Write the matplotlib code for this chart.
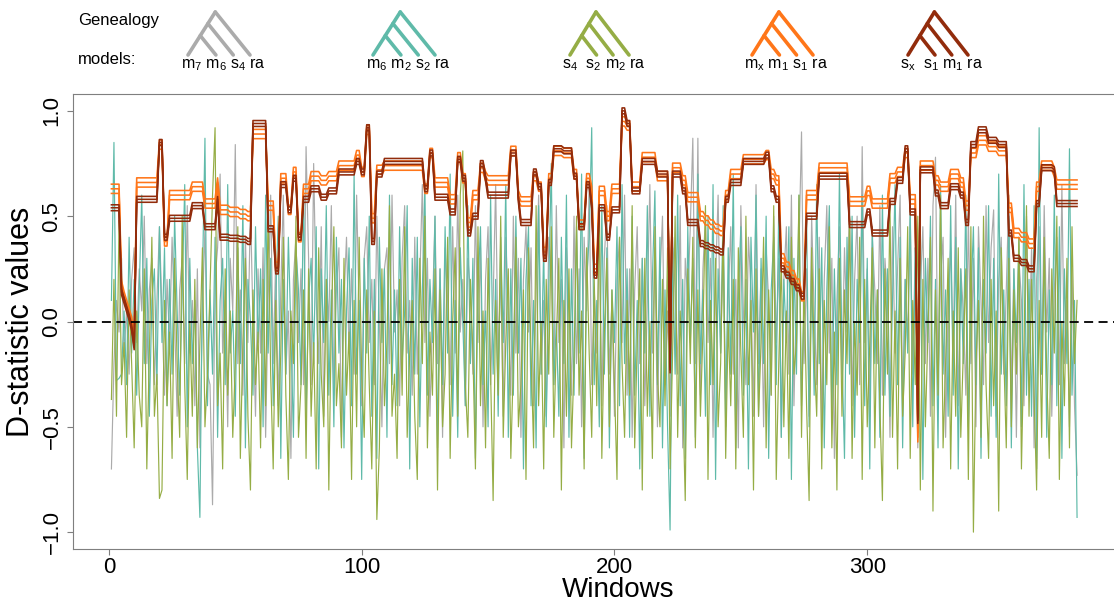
import numpy as np
import matplotlib.pyplot as plt

plt.rcParams['font.family'] = ['Liberation Sans', 'DejaVu Sans']
plt.rcParams['mathtext.fontset'] = 'custom'
plt.rcParams['mathtext.rm'] = 'Liberation Sans'
plt.rcParams['mathtext.it'] = 'Liberation Sans'

# D-statistics per window, in hundredths (noisy genealogy models)
grey_d = [
    -70, -20, 10, -5, 30, -15, 5, -25, 20, 35, -10, 25, 5, 50, -20, 15, 30, -30, 10, 45,
    5, -35, 20, -10, 40, 0, -45, 15, 30, -20, 55, -15, 10, -40, 25, -60, 5, 45, -25, -30,
    -87, 20, 35, 70, -15, 10, -50, 30, 5, 84, -20, 15, -35, 40, -10, 55, 0, -45, 25, -15,
    35, -55, 10, 60, -20, 30, -40, 15, 60, -25, 5, -65, 20, 40, -10, 25, -30, 83, 30, -30,
    75, 10, -20, 45, -45, 20, 0, 55, -35, 15, 35, -55, 10, 40, -15, 25, -25, 60, 5, -40,
    30, 45, -10, 20, -30, 50, 0, -50, 25, 35, -20, 60, -5, 15, -40, 30, 55, -15, 10, -35,
    40, -25, 20, 65, -10, 30, -45, 5, 50, -20, 25, -55, 35, 10, -30, 45, -15, 60, -5, 20,
    -40, 30, 15, -25, 55, -10, 35, -50, 20, 45, -30, 10, 65, -20, 25, -45, 40, 5, -35, 50,
    -15, 30, -55, 20, 45, -5, 35, -40, 15, 60, -25, 10, -45, 40, 25, -30, 55, -10, 20, -60,
    35, 10, -35, 50, -20, 25, -50, 40, 5, 65, -30, 15, -15, 45, -40, 30, 55, -25, 10, -45,
    20, 40, -10, 60, -35, 25, -55, 15, 45, -20, 30, -40, 10, 65, -15, 35, -50, 20, 50, -30,
    5, -45, 40, 15, -25, 55, -60, 30, 10, 45, 87, -20, 87, -35, 25, 50, -10, 30, -55, 20,
    60, -15, 35, -40, 10, 45, -25, 20, -60, 55, 5, -30, 40, 15, -45, 65, -20, 25, -50, 35,
    10, -35, 50, -10, 30, -55, 20, 45, -25, 60, -40, 15, 35, 90, -20, 25, -45, 50, 5, -30,
    40, -50, 20, 55, -15, 30, -65, 10, 45, -25, 35, -5, 60, -40, 20, 50, -30, 83, -10, 25,
    -45, 40, 15, -20, 55, -35, 30, 10, -55, 45, -15, 25, 60, -40, 20, -10, 50, -25, 35, -60,
    15, 45, -20, 30, -45, 55, 78, -30, 20, 40, -55, 10, 35, -15, 60, -40, 25, 5, -35, 50,
    -20, 30, -50, 45, 10, -30, 55, -10, 35, 53, -45, 20, 40, -25, 15, 60, -35, 25, -55, 30,
    10, -40, 50, -15, 35, -60, 20, 45, -25, 55, -5, 30, -45, 15, 40, -30, 65, -20, 10, -50,
    25, -40, -73,
]

teal_d = [
    10, 85, -28, -27, -25, 5, -30, 40, -15, 20, -35, 15, 60, -20, 30, -45, 10, 25, -30, 45,
    -10, 35, -40, 20, -25, 50, 5, -35, 15, 65, -50, 30, -20, 10, -60, -93, 20, 87, -40, 15,
    -25, 40, -55, 10, 30, -30, 65, -15, 5, -45, 35, -20, 55, -60, 20, 0, -35, 45, -10, 25,
    -50, 60, -15, 30, -40, 10, 50, -65, 20, -25, 40, -5, -55, 35, 15, -30, 65, -45, 10, 30,
    -20, 45, -70, 25, -10, 55, -35, 15, -50, 40, -15, 20, -60, 5, 35, -40, 70, -25, 10, -75,
    30, -15, 50, -45, 20, -65, 40, -10, 25, -55, 60, -30, 15, -40, 45, -20, 5, 55, -70, 30,
    -25, 40, -50, 15, 65, -35, 20, -10, 50, -60, 25, -30, 45, -15, 70, -45, 10, -55, 35, 0,
    -40, 55, -20, 30, -65, 15, 45, -30, 5, -50, 60, -25, 20, -45, 40, -10, 65, -55, 25, -35,
    50, -15, 30, -70, 20, 45, -40, 10, -60, 55, -25, 35, -50, 15, 75, -30, 0, -45, 40, -20,
    60, -55, 25, -35, 45, -15, 70, -65, 20, 40, 92, -30, 10, -50, 55, -25, 35, -60, 15, -10,
    45, -40, 65, -20, 25, -55, 50, -35, 10, -70, 30, -15, 55, -45, 20, 62, -30, 40, -60, 15,
    -50, -99, 35, -25, 60, -40, 20, -65, 45, -10, 30, -55, 70, -20, 15, -45, 50, -30, 65, -75,
    25, -15, 55, -50, 35, -25, 70, -60, 10, 45, -35, 20, -70, 40, -5, 60, -45, 30, -20, 50,
    -65, 15, 40, -30, 55, -55, 20, -10, 45, -75, 30, -25, 60, -40, 10, 50, -50, 25, -35, 65,
    -20, 35, -60, 15, 55, -45, 25, -30, 70, -15, -65, 40, -25, 50, -55, 20, -10, 60, -40, 30,
    -70, 45, -20, 15, -55, 60, -35, 25, -45, 10, 65, -30, 40, -60, 20, -15, 55, -50, 35, -25,
    45, -75, 30, -10, 50, -40, 20, -60, 65, -25, 15, -45, 55, -35, 40, -70, 25, -20, 60, -50,
    10, 45, -30, 35, -65, 20, -15, 55, -45, 30, -55, 70, -25, 15, -40, 50, -60, 25, -10, 40,
    -50, 65, -35, 20, -45, 55, -70, 92, -25, 35, -55, 15, -30, 60, -40, 45, -65, 25, -20, 82,
    -35, 10, -93,
]

green_d = [
    -37, 20, -45, 48, -30, -10, -55, 15, -20, -60, 5, -35, -50, 25, -70, -15, 40, -45, -25, -84,
    -80, 10, -40, -5, -65, 30, -20, -55, 50, -30, -75, 0, -45, 20, -60, -10, 35, -50, -25, 15,
    60, 92, -40, -15, -70, 25, -35, 5, -55, -20, 45, -65, -10, 30, -45, -80, 15, -30, -5, -60,
    20, -40, 55, -25, -70, 10, -50, -15, 40, -35, -75, 5, -20, 50, -55, -30, 15, -65, 25, -45,
    -10, -70, 35, -25, -50, 20, -80, 0, 45, -40, -20, -60, 30, -35, -5, -75, 10, -50, 40, -25,
    -55, 15, -30, -70, 5, -94, -60, 25, -40, -10, 55, -45, -25, -65, 20, -35, 45, -55, -15, 10,
    -45, -75, 30, -20, 50, -60, -5, -35, 25, -80, 15, -50, -25, 40, -65, 0, 35, -45, 60, 81,
    -30, -55, 20, -15, -70, 45, -40, 5, -60, 30, -25, -85, 10, -35, 50, -55, -10, 25, -65, -20,
    40, -50, -30, 15, -75, 35, -15, -60, 55, -40, 0, -70, 20, -25, 45, -55, -10, 30, -80, 10,
    -45, 25, -60, -20, 50, -35, 5, -70, 35, -15, -55, 20, -40, 60, -65, -5, 30, -50, 15, -30,
    -75, 40, -20, -55, 10, -35, 55, -60, -10, 25, -80, 30, -45, 0, -65, 45, -25, -50, 20, -40,
    35, -70, -15, 50, -55, 5, -35, -85, 25, -20, 40, -60, 15, -45, -5, 55, -75, 10, -30, 30,
    -50, -20, 45, -65, 0, -40, 20, -70, 35, -15, -55, 50, -30, 10, -80, 25, -45, -10, 40, -60,
    15, -35, 55, -75, -20, 30, -50, 5, -65, 40, -25, -10, 60, -55, 20, -40, -85, 35, -15, -45,
    25, -70, 10, -30, 45, -60, -5, -80, 30, -45, 15, -20, 50, -65, 0, -35, 40, -75, 20, -50,
    -10, 35, -60, 15, -40, -85, 25, -25, 55, -55, 5, -70, 30, -45, -15, 45, -65, 10, -30, 50,
    -80, 20, -50, -5, 40, -90, 15, -35, 60, -60, -20, 30, -70, 5, -45, 35, -55, -15, 25, -75,
    45, -100, -20, 10, -55, 50, -30, -65, 20, -40, 5, -90, 35, -15, -60, 30, -50, 15, -25, 40,
    -70, -10, 55, -45, 20, -35, -80, 10, -55, 40, -25, -65, 25, -15, 50, -75, 0, -40, 30, -60,
    45, -20, 10,
]

# step-like models: first window of each block, level for the orange and dark red models
step_start = [1, 5, 6, 7, 8, 9, 10, 11, 20, 22, 24, 33, 38, 43, 44, 48, 52, 55, 57, 63,
              66, 68, 71, 73, 75, 77, 80, 84, 87, 91, 98, 100, 102, 104, 106, 109, 125, 127, 129, 135,
              138, 140, 142, 144, 147, 149, 150, 159, 162, 163, 168, 170, 172, 174, 176, 180, 184, 186, 189, 191,
              192, 194, 197, 199, 203, 205, 207, 211, 217, 222, 223, 227, 229, 234, 236, 238, 240, 242, 244, 246,
              251, 260, 262, 264, 266, 268, 270, 272, 274, 276, 281, 293, 300, 302, 309, 312, 315, 317, 320, 321,
              327, 329, 333, 337, 339, 341, 344, 348, 352, 356, 358, 361, 364, 367, 369, 374, 375]
orange_level = [.63, .17, .12, .08, .04, .00, -.10, .66, .84, .38, .60, .64, .56, .66, .53, .52, .51, .50, .89, .55,
                .26, .68, .53, .71, .40, .63, .69, .67, .69, .74, .79, .71, .91, .49, .72, .74, .63, .80, .66, .58,
                .78, .68, .47, .60, .73, .69, .67, .81, .60, .57, .69, .64, .33, .68, .81, .80, .70, .46, .68, .62,
                .25, .62, .50, .63, .95, .93, .64, .78, .69, -.18, .73, .67, .59, .50, .48, .46, .44, .43, .60, .70,
                .77, .79, .70, .67, .30, .26, .22, .18, .12, .60, .73, .57, .62, .56, .68, .71, .80, .58, -.55, .74,
                .67, .64, .70, .66, .55, .80, .86, .83, .81, .54, .42, .40, .37, .64, .74, .71, .65]
red_level = [.54, .14, .10, .06, .02, -.03, -.12, .58, .85, .40, .49, .55, .45, .58, .40, .395, .39, .38, .94, .44,
             .24, .65, .53, .68, .40, .58, .63, .59, .62, .71, .76, .71, .92, .38, .70, .76, .63, .80, .59, .52,
             .77, .68, .42, .50, .75, .68, .60, .80, .58, .47, .71, .64, .30, .66, .82, .81, .69, .45, .65, .55,
             .22, .54, .40, .53, 1.0, .94, .62, .76, .70, -.23, .70, .62, .47, .37, .36, .35, .34, .33, .58, .66,
             .76, .79, .63, .58, .25, .22, .19, .16, .12, .50, .69, .46, .52, .42, .57, .67, .82, .52, -.47, .72,
             .61, .55, .64, .60, .47, .84, .91, .86, .84, .42, .30, .28, .25, .56, .73, .72, .56]
orange_spread = [0.022, 0.0, -0.022]
red_spread = [0.014, 0.0, -0.014]
n_windows = 383

grey_c = '#ababab'
teal_c = '#5fbaa9'
green_c = '#95ad45'
orange_c = '#ff7619'
red_c = '#922c0c'

fig = plt.figure(figsize=(11.14, 6.03), dpi=100)
ax = fig.add_axes([73 / 1114, 54 / 603, (1163 - 73) / 1114, (549 - 94) / 603])

for vals, col in [(grey_d, grey_c), (teal_d, teal_c), (green_d, green_c)]:
    w = np.arange(1, len(vals) + 1)
    ax.plot(w, np.array(vals) / 100, color=col, lw=0.85)

windows = np.arange(1, n_windows + 1)
idx = np.searchsorted(step_start, windows, side='right') - 1
orange_base = np.array(orange_level)[idx]
red_base = np.array(red_level)[idx]
for off in orange_spread:
    ax.plot(windows, orange_base + off, color=orange_c, lw=1.15)
for off in red_spread:
    ax.plot(windows, red_base + off, color=red_c, lw=1.15)

ax.axhline(0, color='black', lw=1.3, ls=(0, (5, 3)))

ax.set_xlim(-14.2, 417)
ax.set_ylim(-1.08, 1.08)
ax.set_xticks([0, 100, 200, 300])
ax.set_yticks([-1.0, -0.5, 0.0, 0.5, 1.0])
ax.set_yticklabels(['\u22121.0', '\u22120.5', '0.0', '0.5', '1.0'])
ax.tick_params(axis='both', labelsize=16, color='#7f7f7f', length=4.5)
ax.tick_params(axis='x', pad=1)
ax.tick_params(axis='y', pad=3)
for lab in ax.get_yticklabels():
    lab.set_rotation(90)
    lab.set_va('center')
for s in ax.spines.values():
    s.set_color('#7f7f7f')
ax.set_ylabel('D-statistic values', fontsize=22, labelpad=4)

# header: genealogy model trees drawn in pixel space
hdr = fig.add_axes([0, 0, 1, 1], zorder=5)
hdr.set_xlim(0, 1114)
hdr.set_ylim(603, 0)
hdr.axis('off')
hdr.text(618, 597, 'Windows', fontsize=20, ha='center', va='baseline')
hdr.text(78, 20, 'Genealogy', fontsize=12, va='center', ha='left')
hdr.text(78, 60, 'models:', fontsize=12, va='center', ha='left')

trees = [
    (188, 62, grey_c, 'm$_7$ m$_6$ s$_4$ ra'),
    (373, 62, teal_c, 'm$_6$ m$_2$ s$_2$ ra'),
    (570, 59, green_c, 's$_4$  s$_2$ m$_2$ ra'),
    (752, 61, orange_c, 'm$_x$ m$_1$ s$_1$ ra'),
    (908, 60, red_c, 's$_x$  s$_1$ m$_1$ ra'),
]
ytop, ybot = 12, 55
for xl, wd, col, lab in trees:
    apex = xl + 0.44 * wd
    hdr.plot([apex, xl], [ytop, ybot], color=col, lw=2.6, solid_capstyle='round')
    for f in [0.45, 0.73, 1.0]:
        t = 1 - f
        nx = apex + t * (xl - apex)
        ny = ytop + t * (ybot - ytop)
        hdr.plot([nx, xl + f * wd], [ny, ybot], color=col, lw=2.6, solid_capstyle='round')
    hdr.text(xl + wd / 2 + 4, 65, lab, fontsize=11.5, ha='center', va='center')

fig.savefig('out.png', dpi=100)
